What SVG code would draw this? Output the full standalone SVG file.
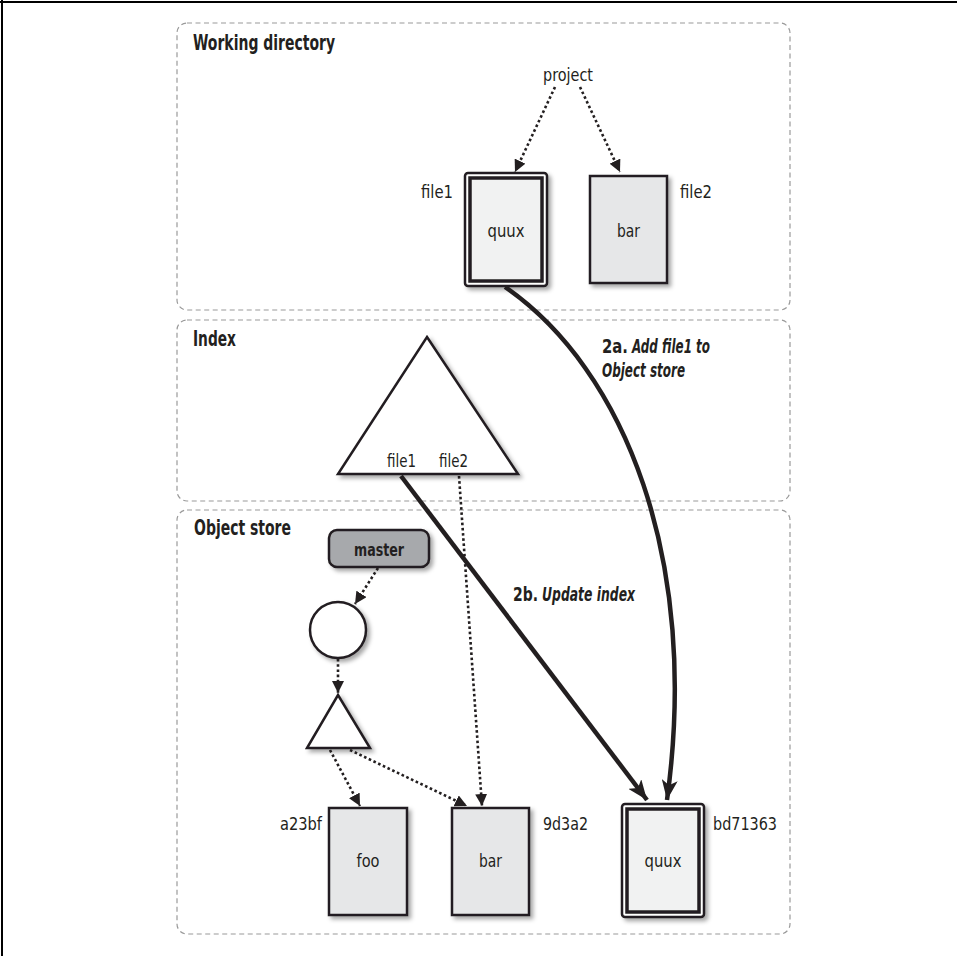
<svg xmlns="http://www.w3.org/2000/svg" width="957" height="956" viewBox="0 0 957 956">
<defs>
<style>
.panel{fill:none;stroke:#9a9a9a;stroke-width:1.2;stroke-dasharray:5 3.5}
.title{font-family:"Liberation Sans Narrow","DejaVu Sans Condensed","Liberation Sans",sans-serif;font-stretch:condensed;font-weight:bold;font-size:21px;fill:#231f20}
.lbl{font-family:"Liberation Sans Narrow","DejaVu Sans Condensed","Liberation Sans",sans-serif;font-stretch:condensed;font-size:18px;fill:#231f20}
.box{fill:#e6e7e8;stroke:#231f20;stroke-width:2.5}
.dbl-o{fill:#fff;stroke:#231f20;stroke-width:2.5}
.dbl-i{fill:#f1f2f2;stroke:#231f20;stroke-width:3.5}
.shape{fill:#fff;stroke:#231f20;stroke-width:2.5;stroke-linejoin:miter}
.dot{fill:none;stroke:#231f20;stroke-width:2.6;stroke-dasharray:2.6 2.6}
.thick{fill:none;stroke:#231f20;stroke-width:4.5}
.note{font-family:"Liberation Sans Narrow","DejaVu Sans Condensed","Liberation Sans",sans-serif;font-stretch:condensed;font-weight:bold;font-size:20px;fill:#231f20}
.it{font-style:italic;font-size:19px}
</style>
<filter id="sh" x="-20%" y="-20%" width="150%" height="150%">
<feDropShadow dx="3" dy="3" stdDeviation="2.2" flood-color="#000" flood-opacity="0.35"/>
</filter>
<marker id="ad" viewBox="0 0 12 12" refX="12" refY="6" markerWidth="12" markerHeight="12" markerUnits="userSpaceOnUse" orient="auto">
<path d="M0,0 L12,6 L0,12 Z" fill="#231f20"/>
</marker>
<marker id="at" viewBox="0 0 20 16" refX="20" refY="8" markerWidth="20" markerHeight="16" markerUnits="userSpaceOnUse" orient="auto">
<path d="M0,0 L20,8 L0,16 L5,8 Z" fill="#231f20"/>
</marker>
</defs>
<rect width="957" height="956" fill="#fff"/>
<path d="M0,2 H957 M2,0 V956" stroke="#000" stroke-width="2" fill="none"/>

<g id="working-directory">
<rect class="panel" x="177" y="23" width="613" height="287" rx="10"/>
<text class="title" x="193" y="50" textLength="142" lengthAdjust="spacingAndGlyphs">Working directory</text>
</g>
<g id="index-panel">
<rect class="panel" x="177" y="320" width="613" height="181" rx="10"/>
<text class="title" x="193" y="346" textLength="43" lengthAdjust="spacingAndGlyphs">Index</text>
</g>
<g id="object-store">
<rect class="panel" x="177" y="510" width="613" height="424" rx="10"/>
<text class="title" x="194" y="535" textLength="97" lengthAdjust="spacingAndGlyphs">Object store</text>
</g>

<g id="project"><text class="lbl" x="543" y="81" textLength="50" lengthAdjust="spacingAndGlyphs">project</text></g>

<g id="wd-file1">
<g filter="url(#sh)">
<rect class="dbl-o" x="465" y="173" width="82" height="113" rx="3"/>
<rect class="dbl-i" x="470" y="178" width="72" height="103"/>
</g>
<text class="lbl" x="487.5" y="237" textLength="37" lengthAdjust="spacingAndGlyphs">quux</text>
<text class="lbl" x="421" y="198" textLength="32" lengthAdjust="spacingAndGlyphs">file1</text>
</g>
<g id="wd-file2">
<rect class="box" x="590" y="176" width="77" height="107" filter="url(#sh)"/>
<text class="lbl" x="617" y="237" textLength="23" lengthAdjust="spacingAndGlyphs">bar</text>
<text class="lbl" x="680" y="198" textLength="32" lengthAdjust="spacingAndGlyphs">file2</text>
</g>

<g id="index-tree">
<path class="shape" d="M427,337 L518,474 L338,474 Z" filter="url(#sh)"/>
<text class="lbl" x="387" y="467" textLength="29" lengthAdjust="spacingAndGlyphs">file1</text>
<text class="lbl" x="439" y="467" textLength="29" lengthAdjust="spacingAndGlyphs">file2</text>
</g>

<g id="master">
<rect x="329" y="530" width="100" height="37" rx="8" fill="#a7a9ac" stroke="#231f20" stroke-width="2.5" filter="url(#sh)"/>
<text class="title" x="354" y="556" style="font-size:18px" textLength="50" lengthAdjust="spacingAndGlyphs">master</text>
</g>
<g id="commit"><circle class="shape" cx="338" cy="630" r="28" filter="url(#sh)"/></g>
<g id="tree"><path class="shape" d="M338,695 L370,748 L307,748 Z" filter="url(#sh)"/></g>

<g id="blob-foo">
<rect class="box" x="329" y="808" width="78" height="107" filter="url(#sh)"/>
<text class="lbl" x="356.5" y="867" textLength="23" lengthAdjust="spacingAndGlyphs">foo</text>
<text class="lbl" x="280" y="830" textLength="42" lengthAdjust="spacingAndGlyphs">a23bf</text>
</g>
<g id="blob-bar">
<rect class="box" x="452" y="808" width="77" height="107" filter="url(#sh)"/>
<text class="lbl" x="479" y="867" textLength="23" lengthAdjust="spacingAndGlyphs">bar</text>
<text class="lbl" x="543" y="830" textLength="45" lengthAdjust="spacingAndGlyphs">9d3a2</text>
</g>
<g id="blob-quux">
<g filter="url(#sh)">
<rect class="dbl-o" x="622" y="804" width="82" height="113" rx="3"/>
<rect class="dbl-i" x="627" y="809" width="72" height="103"/>
</g>
<text class="lbl" x="644.5" y="867" textLength="37" lengthAdjust="spacingAndGlyphs">quux</text>
<text class="lbl" x="713" y="830" textLength="64" lengthAdjust="spacingAndGlyphs">bd71363</text>
</g>

<g id="connectors">
<path class="dot" d="M555,87 L515,172" marker-end="url(#ad)"/>
<path class="dot" d="M580,87 L620,172" marker-end="url(#ad)"/>
<path class="dot" d="M378,568 L355,604" marker-end="url(#ad)"/>
<path class="dot" d="M338,659 L338,693" marker-end="url(#ad)"/>
<path class="dot" d="M330,750 L360,806" marker-end="url(#ad)"/>
<path class="dot" d="M350,750 L467,806" marker-end="url(#ad)"/>
<path class="dot" d="M459,476 L482,806" marker-end="url(#ad)"/>
<path class="thick" d="M401,476 L647,800" marker-end="url(#at)"/>
<path class="thick" d="M505,287 C625,370 700,560 667,800" marker-end="url(#at)"/>
</g>

<g id="labels">
<text class="note" x="602" y="353" textLength="26" lengthAdjust="spacingAndGlyphs">2a.</text>
<text class="note it" x="632" y="353" textLength="78" lengthAdjust="spacingAndGlyphs">Add file1 to</text>
<text class="note it" x="602" y="377" textLength="83" lengthAdjust="spacingAndGlyphs">Object store</text>
<text class="note" x="513" y="601" textLength="25" lengthAdjust="spacingAndGlyphs">2b.</text>
<text class="note it" x="542" y="601" textLength="93" lengthAdjust="spacingAndGlyphs">Update index</text>
</g>
</svg>
